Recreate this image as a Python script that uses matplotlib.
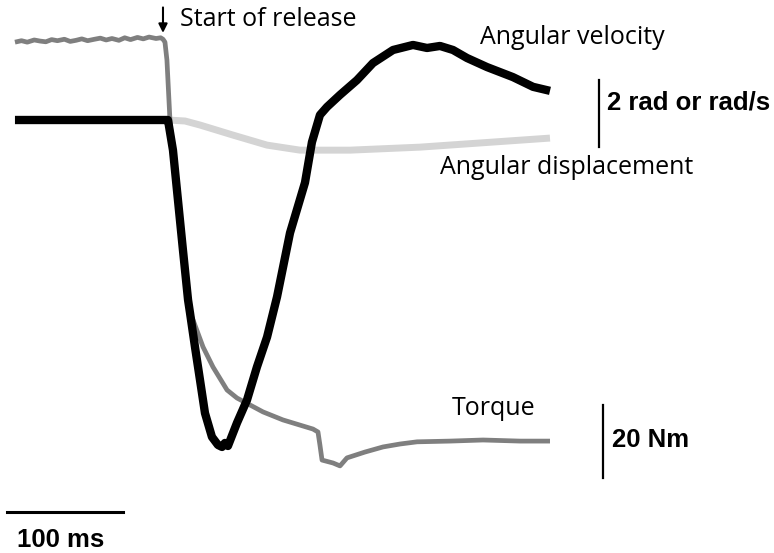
import matplotlib
matplotlib.use("Agg")
import matplotlib.pyplot as plt

# time axis in ms (0 = start of release)
torque_t = [-127.6, -122, -117, -111, -106, -101, -96, -91, -85, -80, -75, -70, -65, -59, -54,
            -49, -44, -38, -33, -28, -22, -17, -12, -6, -2, 0, 1.7, 3.4, 6.0, 10.3, 14.7, 19.0,
            23.3, 25.9, 34.5, 43.1, 55.2, 63.8, 75.0, 86.2, 103.4, 129.3, 133.6, 135.3, 137.1,
            146.6, 152.6, 158.6, 174.1, 189.7, 204.3, 219.0, 247.4, 275.9, 307.8, 333.6]
torque_nm = [109.0, 109.4, 109.0, 109.6, 109.3, 109.1, 109.7, 109.4, 109.8, 109.2, 109.5, 109.9,
             109.4, 109.8, 110.1, 109.6, 110.0, 109.5, 110.2, 109.7, 110.3, 109.9, 110.4, 110.0,
             110.2, 109.8, 109.0, 104.1, 87.7, 71.2, 57.5, 43.8, 34.8, 32.9, 25.5, 20.0, 13.7,
             11.5, 9.6, 7.7, 5.5, 3.0, 2.2, -1.4, -5.5, -6.3, -7.1, -4.9, -3.3, -1.9, -1.1,
             -0.5, -0.3, 0.0, -0.3, -0.3]

vel_t = [-127.6, 0, 4.3, 8.6, 12.9, 17.2, 21.6, 23.3, 27.6, 31.9, 36.2, 42.2, 47.4, 50.9, 53.4,
         56.0, 63.8, 72.4, 81.0, 89.7, 98.3, 109.5, 122.4, 128.4, 135.3, 141.4, 152.6, 167.2,
         181.0, 198.3, 215.5, 227.6, 238.8, 250.0, 262.1, 279.3, 301.7, 319.0, 333.6]
vel_rads = [0, 0, 0, -0.90, -2.39, -3.88, -5.37, -5.76, -6.78, -7.76, -8.75, -9.46, -9.70,
            -9.76, -9.64, -9.73, -9.04, -8.36, -7.37, -6.48, -5.28, -3.37, -1.87, -0.66, 0.15,
            0.39, 0.75, 1.19, 1.70, 2.09, 2.24, 2.15, 2.21, 2.09, 1.85, 1.58, 1.28, 0.99, 0.87]

disp_t = [-127.6, 4.3, 19.0, 31.9, 60.3, 89.7, 118.1, 161.2, 221.6, 333.6]
disp_rad = [0, 0, -0.03, -0.15, -0.45, -0.75, -0.90, -0.90, -0.81, -0.54]

fig = plt.figure(figsize=(7.74, 5.53), dpi=100)
XLIM = (-140.5, 526.7)
ax = fig.add_axes([0, 0, 1, 1])
ax.set_xlim(*XLIM)
ax.set_ylim(-12.925, 3.582)
ax.axis("off")
ax2 = fig.add_axes([0, 0, 1, 1])
ax2.patch.set_alpha(0)
ax2.set_xlim(*XLIM)
ax2.set_ylim(-30.96, 120.55)
ax2.axis("off")
ax_v = fig.add_axes([0, 0, 1, 1])
ax_v.patch.set_alpha(0)
ax_v.set_xlim(*XLIM)
ax_v.set_ylim(-12.925, 3.582)
ax_v.axis("off")

ax.plot(disp_t, disp_rad, color="#d4d4d4", lw=5.0, solid_capstyle="butt", zorder=1)
ax2.plot(torque_t, torque_nm, color="#7f7f7f", lw=3.4, solid_capstyle="butt",
         solid_joinstyle="round", zorder=2)
ax_v.plot(vel_t, vel_rads, color="black", lw=6.0, solid_capstyle="butt", solid_joinstyle="round")

# scale bars
ax_v.plot([-134.5, -34.5], [-11.7, -11.7], color="black", lw=2.2)
ax_v.plot([375.9, 375.9], [1.19, -0.81], color="black", lw=1.6)
ax2.plot([379.3, 379.3], [9.6, -10.4], color="black", lw=1.6)

font = "Open Sans"
fs = 18
ax_v.annotate("", xy=(0, 2.60), xytext=(0, 3.36),
              arrowprops=dict(arrowstyle="-|>", color="black", lw=1.5, mutation_scale=13,
                              shrinkA=0, shrinkB=0))
ax_v.text(14.7, 3.0, "Start of release", fontsize=fs, family=font, va="center", ha="left")
ax_v.text(273.3, 2.45, "Angular velocity", fontsize=fs, family=font, va="center", ha="left")
ax_v.text(238.8, -1.43, "Angular displacement", fontsize=fs, family=font, va="center", ha="left")
ax_v.text(249.1, -8.6, "Torque", fontsize=fs, family=font, va="center", ha="left")
bfs = 18.5
ax_v.text(382.8, 0.51, "2 rad or rad/s", fontsize=bfs, family="Liberation Sans",
          fontweight="bold", va="center", ha="left")
ax_v.text(387.1, -9.55, "20 Nm", fontsize=bfs, family="Liberation Sans",
          fontweight="bold", va="center", ha="left")
ax_v.text(-125.9, -12.54, "100 ms", fontsize=bfs, family="Liberation Sans",
          fontweight="bold", va="center", ha="left")

fig.savefig("out.png", dpi=100)
